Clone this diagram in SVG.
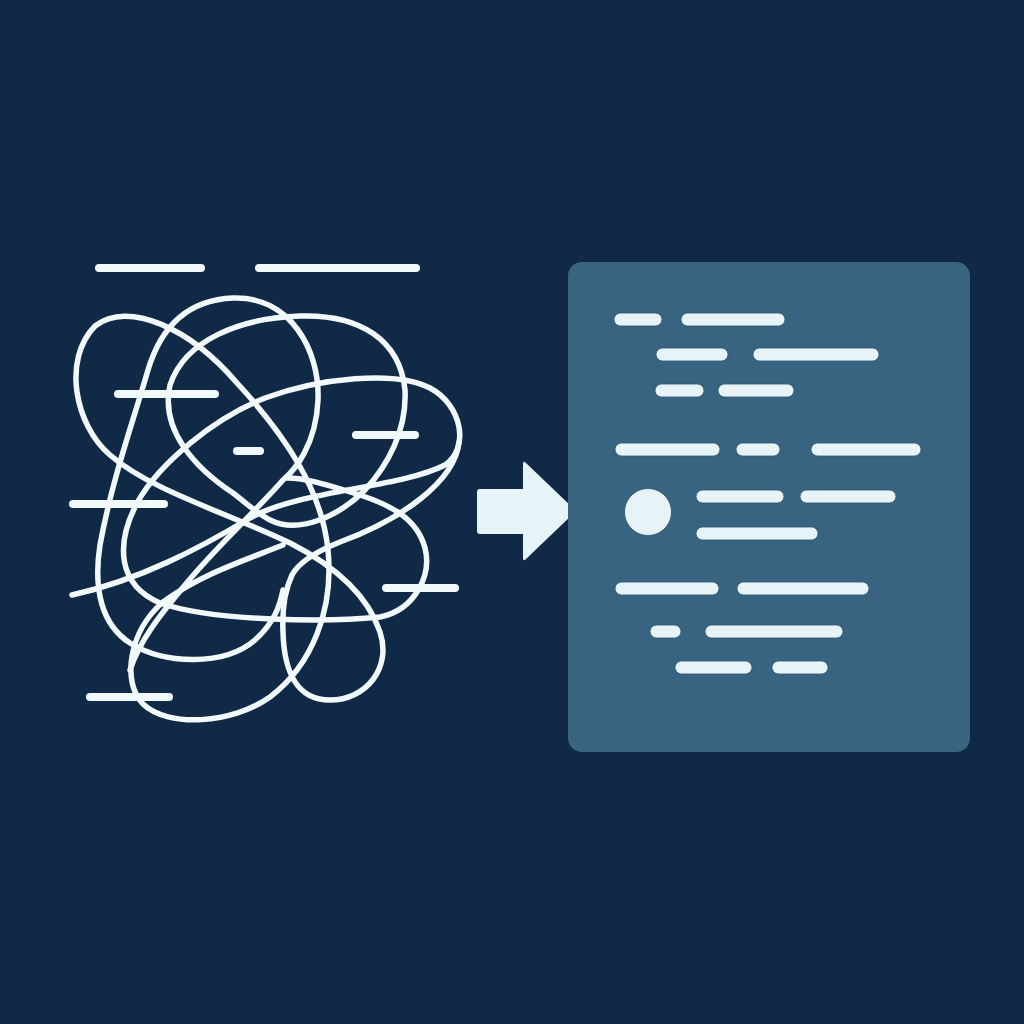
<svg xmlns="http://www.w3.org/2000/svg" width="1024" height="1024" viewBox="0 0 1024 1024">
<style>
.bg{fill:#0f2946}
.knot{fill:none;stroke:#f2f9fb;stroke-width:5.5;stroke-linecap:round;stroke-linejoin:round}
.dash{stroke:#f2f9fb;stroke-width:8;stroke-linecap:round}
.panel{fill:#386482}
.bar{fill:#e6f3f7;stroke:#2b5470;stroke-width:0.8}
</style>
<rect class="bg" width="1024" height="1024"/>
<g id="tangle">
  <line class="dash" x1="99" y1="268" x2="201" y2="268"/>
  <line class="dash" x1="259" y1="268" x2="416" y2="268"/>
  <path class="knot" d="M459,442 C455,482 400,520 340,542 C320,550 300,560 292,575 C284,592 282,610 283,632 C284,670 296,700 330,700 C366,700 392,668 380,632 C368,596 335,566 290,543 C225,512 150,490 110,455 C75,425 62,360 95,326 C128,300 190,328 237,383 C285,435 322,490 328,550 C334,610 312,665 270,697 C232,724 168,728 143,704 C122,683 128,632 163,602 C200,575 240,562 283,545"/>
  <path class="knot" d="M72,595 C140,580 200,548 250,518 C300,490 400,488 445,465 C470,448 462,405 430,388 C395,370 320,378 265,398 C215,418 160,462 137,503 C115,545 118,585 160,603 C215,622 330,622 380,617 C415,610 432,575 425,548 C417,518 390,505 360,495 C325,484 305,478 287,478"/>
  <path class="knot" d="M233,493 C195,468 160,430 170,385 C185,340 240,318 300,316 C360,314 400,340 405,390 C407,430 388,465 365,490 C340,515 300,535 270,520 C255,512 245,502 233,493 Z"/>
  <path class="knot" d="M233,298 C290,296 320,350 318,400 C316,445 295,470 283,480 C255,512 215,548 185,585 C160,615 140,640 130,670 M233,298 C185,300 160,330 148,370 C132,425 112,480 100,545 C93,590 102,625 130,643 C165,665 225,666 255,640 C275,622 280,605 283,590"/>
  <line class="dash" x1="118" y1="394" x2="215" y2="394"/>
  <line class="dash" x1="356" y1="435" x2="415" y2="435"/>
  <line class="dash" x1="237" y1="451" x2="260" y2="451"/>
  <line class="dash" x1="73" y1="504" x2="164" y2="504"/>
  <line class="dash" x1="386" y1="588" x2="455" y2="588"/>
  <line class="dash" x1="90" y1="697" x2="169" y2="697"/>
</g>
<g id="arrow">
  <path d="M480,489 H523 V464 Q523,460 526,463 L573,508 Q576,511 573,514 L526,559 Q523,562 523,558 V534 H480 Q477,534 477,531 V492 Q477,489 480,489 Z" fill="#e6f3f7"/>
</g>
<g id="document">
  <rect class="panel" x="568" y="262" width="402" height="490" rx="14"/>
  <rect class="bar" x="614" y="313" width="48" height="13" rx="6.5"/>
  <rect class="bar" x="681" y="313" width="104" height="13" rx="6.5"/>
  <rect class="bar" x="656" y="348" width="72" height="13" rx="6.5"/>
  <rect class="bar" x="753" y="348" width="126" height="13" rx="6.5"/>
  <rect class="bar" x="655" y="384" width="49" height="13" rx="6.5"/>
  <rect class="bar" x="718" y="384" width="76" height="13" rx="6.5"/>
  <rect class="bar" x="615" y="443" width="105" height="13" rx="6.5"/>
  <rect class="bar" x="736" y="443" width="44" height="13" rx="6.5"/>
  <rect class="bar" x="811" y="443" width="110" height="13" rx="6.5"/>
  <circle class="bar" cx="648" cy="512" r="23.5"/>
  <rect class="bar" x="696" y="490" width="88" height="13" rx="6.5"/>
  <rect class="bar" x="800" y="490" width="96" height="13" rx="6.5"/>
  <rect class="bar" x="696" y="527" width="122" height="13" rx="6.5"/>
  <rect class="bar" x="615" y="582" width="104" height="13" rx="6.5"/>
  <rect class="bar" x="737" y="582" width="132" height="13" rx="6.5"/>
  <rect class="bar" x="650" y="625" width="31" height="13" rx="6.5"/>
  <rect class="bar" x="705" y="625" width="138" height="13" rx="6.5"/>
  <rect class="bar" x="675" y="661" width="77" height="13" rx="6.5"/>
  <rect class="bar" x="772" y="661" width="56" height="13" rx="6.5"/>
</g>
</svg>
